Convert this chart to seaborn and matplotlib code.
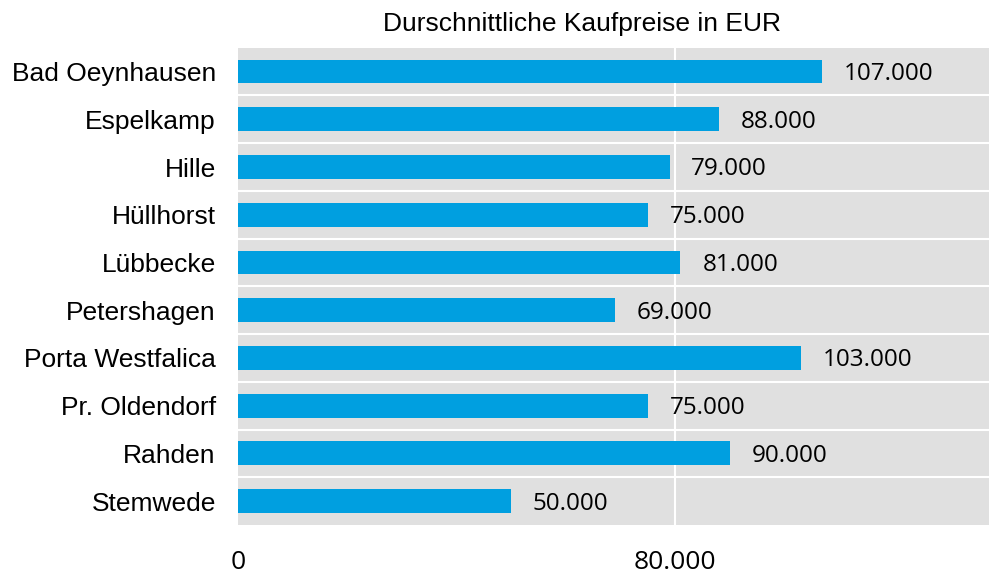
import matplotlib
matplotlib.use("Agg")
from matplotlib import pyplot as plt
import pandas as pd
import seaborn as sns

cities = ["Bad Oeynhausen", "Espelkamp", "Hille", "Hüllhorst", "Lübbecke",
          "Petershagen", "Porta Westfalica", "Pr. Oldendorf", "Rahden", "Stemwede"]
prices = [107000, 88000, 79000, 75000, 81000, 69000, 103000, 75000, 90000, 50000]
x_ticks = [0, 80000]
x_tick_labels = ["0", "80.000"]

df = pd.DataFrame({"city": cities, "price": prices})

sns.set_style("white")
fig = plt.figure(figsize=(9.89, 5.74), dpi=100)
ax = fig.add_axes([0.2407, 0.0854, 0.7593, 0.8315])
ax.set_facecolor("#e0e0e0")

sns.barplot(data=df, y="city", x="price", color="#009fe0", width=0.5,
            saturation=1, linewidth=0, ax=ax)

ax.set_xlim(0, 137500)
ax.set_ylim(len(cities) - 0.5, -0.5)
ax.set_xticks(x_ticks)
ax.set_xticklabels(x_tick_labels, fontfamily="Open Sans", fontsize=19, color="black")
ax.tick_params(axis="x", length=0, pad=18)
ax.tick_params(axis="y", length=0, pad=16, labelsize=19, labelcolor="black")
for lbl in ax.get_yticklabels():
    lbl.set_fontfamily("Liberation Sans")
ax.set_xlabel("")
ax.set_ylabel("")

# white separators between bands and vertical gridline
for i in range(len(cities) - 1):
    ax.axhline(i + 0.5, color="white", lw=1.5, zorder=0.5)
ax.axvline(80000, color="white", lw=1.5, zorder=0.5)
ax.set_axisbelow(True)

for sp in ax.spines.values():
    sp.set_visible(False)

for i, v in enumerate(prices):
    ax.text(v + 4000, i + 0.05, f"{v:,}".replace(",", "."), va="center", ha="left",
            fontfamily="Open Sans", fontsize=17.5, color="black")

ax.set_title("Durschnittliche Kaufpreise in EUR", fontfamily="Liberation Sans",
             fontsize=19, pad=12, x=0.458, color="black")

fig.savefig("out.png", dpi=100)
